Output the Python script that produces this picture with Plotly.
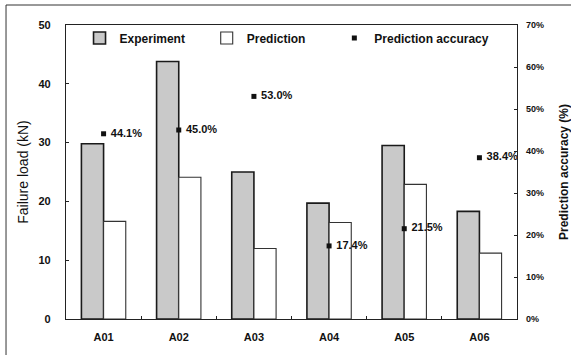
import plotly.graph_objects as go

# Specimen data
specimens = ["A01", "A02", "A03", "A04", "A05", "A06"]
experiment_kn = [29.8, 43.8, 25.0, 19.7, 29.5, 18.3]
prediction_kn = [16.6, 24.1, 12.0, 16.4, 22.9, 11.2]
accuracy = [0.441, 0.450, 0.530, 0.174, 0.215, 0.384]
accuracy_labels = ["44.1%", "45.0%", "53.0%", "17.4%", "21.5%", "38.4%"]

FONT = "Liberation Sans, Arial, sans-serif"
LEG_FONT = dict(family=FONT, size=12, weight="bold", color="#111111")

fig = go.Figure()

fig.add_trace(go.Bar(
    name="Experiment", x=specimens, y=experiment_kn, legend="legend",
    marker=dict(color="#cccccc",
                line=dict(color="#1a1a1a", width=1.6),
                pattern=dict(shape=".", fgcolor="#9a9a9a", bgcolor="#d6d6d6",
                             size=2, solidity=0.5)),
))
fig.add_trace(go.Bar(
    name="Prediction", x=specimens, y=prediction_kn, legend="legend2",
    marker=dict(color="white", line=dict(color="#333333", width=1.1)),
))
fig.add_trace(go.Scatter(
    name="Prediction accuracy", x=specimens, y=accuracy, yaxis="y2", legend="legend3",
    mode="markers+text", text=accuracy_labels, texttemplate=" %{text}",
    textposition="middle right",
    textfont=dict(family=FONT, size=11, color="#111111", weight="bold"),
    marker=dict(symbol="square", size=5, color="#111111"),
))

legend_common = dict(orientation="h", y=1.005, xanchor="left", yanchor="top",
                     bgcolor="rgba(0,0,0,0)", font=LEG_FONT, itemwidth=30)

fig.update_layout(
    width=571, height=355,
    margin=dict(l=66, r=54, t=25, b=36, autoexpand=False),
    paper_bgcolor="white", plot_bgcolor="white",
    barmode="group", bargap=0.41, bargroupgap=0,
    font=dict(family=FONT, color="#111111"),
    showlegend=True,
    legend=dict(x=0.03, **legend_common),
    legend2=dict(x=0.312, **legend_common),
    legend3=dict(x=0.595, **legend_common),
    xaxis=dict(showline=True, linecolor="#222222", linewidth=1.3, mirror=True,
               ticks="inside", tickson="boundaries", ticklen=3, tickcolor="#222222",
               tickfont=dict(family=FONT, size=11, weight="bold"),
               ticklabelstandoff=8, automargin=False,
               showgrid=False, zeroline=False),
    yaxis=dict(range=[0, 50], dtick=10, showline=True, linecolor="#222222", linewidth=1.3,
               ticks="inside", ticklen=3, tickcolor="#222222",
               tickfont=dict(family=FONT, size=11, weight="bold"),
               ticklabelstandoff=12, automargin=False,
               title=dict(text="Failure load (kN)", font=dict(family=FONT, size=14),
                          standoff=6),
               showgrid=False, zeroline=False),
    yaxis2=dict(range=[0, 0.7], dtick=0.1, tickformat=".0%", overlaying="y", side="right",
                showline=True, linecolor="#222222", linewidth=1.3,
                ticks="inside", ticklen=3, tickcolor="#222222",
                tickfont=dict(family=FONT, size=9, weight="bold"),
                ticklabelstandoff=6, automargin=False,
                title=dict(text="Prediction accuracy (%)",
                           font=dict(family=FONT, size=12, weight="bold"), standoff=18),
                showgrid=False, zeroline=False),
)

# Outer figure frame (left and top edges)
fig.add_shape(type="line", xref="paper", yref="paper",
              x0=-0.133, x1=-0.133, y0=-0.13, y1=1.068,
              line=dict(color="#333333", width=1), layer="below")
fig.add_shape(type="line", xref="paper", yref="paper",
              x0=-0.133, x1=1.2, y0=1.068, y1=1.068,
              line=dict(color="#333333", width=1), layer="below")

fig.write_html("out.html")
